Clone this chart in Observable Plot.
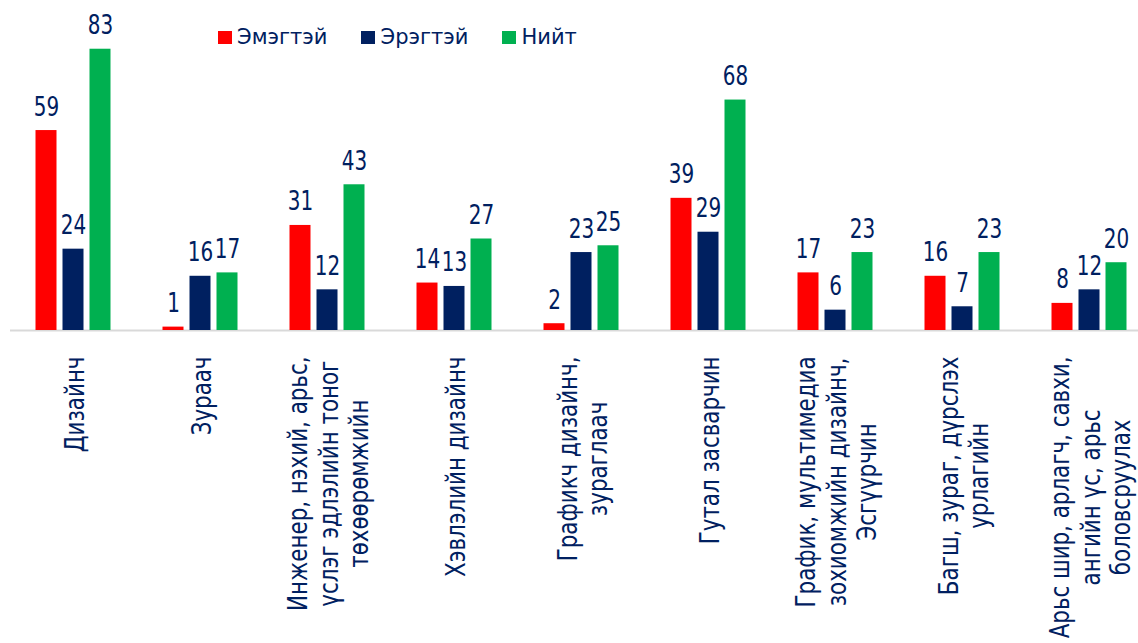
<!DOCTYPE html>
<html>
<head>
<meta charset="utf-8">
<script src="https://cdn.jsdelivr.net/npm/d3@7"></script>
<script src="https://cdn.jsdelivr.net/npm/@observablehq/plot@0.6"></script>
<style>
  body { margin: 0; background: #fff; overflow: hidden; }
  #chart { position: relative; width: 1138px; height: 643px; overflow: hidden; }
  #legend { position: absolute; left: 218px; top: 25px; display: flex; align-items: center;
            font-family: "DejaVu Sans"; font-size: 21px; color: #002060; }
  #legend .item { display: flex; align-items: center; margin-right: 34px; }
  #legend .sw { width: 14px; height: 13px; margin-right: 5px; }
</style>
</head>
<body>
<div id="chart"><div id="legend"></div></div>
<script>
const categories = [
  "Дизайнч",
  "Зураач",
  "Инженер, нэхий, арьс,\nүслэг эдлэлийн тоног\nтөхөөрөмжийн",
  "Хэвлэлийн дизайнч",
  "Графикч дизайнч,\nзураглаач",
  "Гутал засварчин",
  "График, мультимедиа\nзохиомжийн дизайнч,\nЭсгүүрчин",
  "Багш, зураг, дүрслэх\nурлагийн",
  "Арьс шир, арлагч, савхи,\nангийн үс, арьс\nболовсруулах"
];
const series = ["Эмэгтэй", "Эрэгтэй", "Нийт"];
const colors = ["#FF0000", "#002060", "#00B050"];
const female = [59, 1, 31, 14, 2, 39, 17, 16, 8];
const male   = [24, 16, 12, 13, 23, 29, 6, 7, 12];
const total  = [83, 17, 43, 27, 25, 68, 23, 23, 20];

const rows = categories.flatMap((c, i) =>
  [female[i], male[i], total[i]].map((v, j) => ({cat: c, series: series[j], value: v})));

const font = "DejaVu Sans";
const textColor = "#002060";
const labelSize = 21.4;
const ctx = document.createElement("canvas").getContext("2d");
ctx.font = `${labelSize}px "${font}"`;
const longest = c => d3.max(c.split("\n"), s => ctx.measureText(s).width);

const plot = Plot.plot({
  width: 1138, height: 643,
  marginLeft: 9.5, marginRight: -14.5, marginTop: 25, marginBottom: 313,
  style: {fontFamily: font, background: "transparent", overflow: "visible"},
  fx: {domain: categories, padding: 0, axis: null},
  x: {domain: series, paddingInner: 0.214, paddingOuter: 0.875, axis: null},
  y: {domain: [0, 90], axis: null},
  color: {domain: series, range: colors},
  marks: [
    Plot.ruleY([0], {stroke: "#D9D9D9", strokeWidth: 2}),
    Plot.barY(rows, {fx: "cat", x: "series", y: "value", fill: "series"}),
    Plot.text(rows, {fx: "cat", x: "series", y: "value", text: d => String(d.value),
      lineAnchor: "bottom", dy: -15, fill: textColor, fontSize: 20, ariaDescription: "values"}),
    ...categories.map(c => Plot.text([c], {fx: d => d, text: d => d, frameAnchor: "bottom",
      rotate: -90, textAnchor: "middle", lineAnchor: "middle", lineHeight: 1.12,
      dy: 26 + longest(c) / 2, fill: textColor, fontSize: labelSize, ariaDescription: "xlabels"}))
  ]
});

function stretch(sel, sy) {
  plot.querySelectorAll(sel).forEach(el => {
    const t = el.getAttribute("transform") || "";
    el.setAttribute("transform", `${t} scale(1,${sy})`);
  });
}
stretch('[aria-description="values"] text', 1.3);
stretch('[aria-description="xlabels"] text', 1.27);

const chart = document.getElementById("chart");
chart.insertBefore(plot, chart.firstChild);
plot.style.position = "absolute";
plot.style.left = "0"; plot.style.top = "0";

const legend = document.getElementById("legend");
series.forEach((s, i) => {
  const item = document.createElement("div");
  item.className = "item";
  const sw = document.createElement("div");
  sw.className = "sw";
  sw.style.background = colors[i];
  const lab = document.createElement("span");
  lab.textContent = s;
  item.append(sw, lab);
  legend.append(item);
});
</script>
</body>
</html>
